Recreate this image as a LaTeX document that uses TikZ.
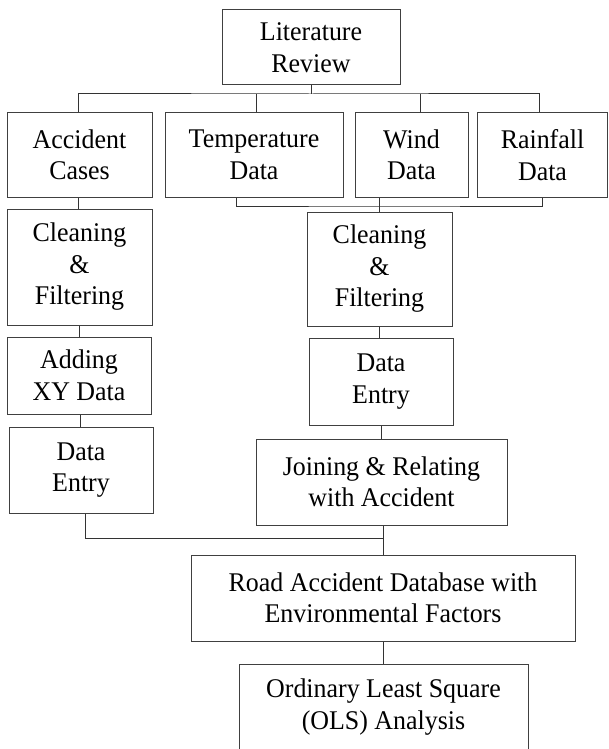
\documentclass[tikz,border=0pt]{standalone}
\usepackage{fontspec}
\setmainfont{Liberation Serif}[FakeStretch=0.96]
\begin{document}
\begin{tikzpicture}[x=1pt, y=-1pt,
        box/.style={draw=black!75, line width=1pt, inner sep=0pt, align=center, font=\fontsize{27}{31.5}\selectfont},
        link/.style={draw=black!80, line width=1pt}]
    \useasboundingbox (0,0) rectangle (608,749);
    \clip (0,0) rectangle (608,749);

    % top row
    \node[box, minimum width=178pt, minimum height=75pt] (lit) at (311,47.5) {Literature\\Review};
    \node[box, minimum width=145pt, minimum height=84pt] (acc) at (79.5,155) {Accident\\Cases};
    \node[box, minimum width=178pt, minimum height=84pt] (temp) at (254,155) {Temperature\\Data};
    \node[box, minimum width=113pt, minimum height=84pt] (wind) at (411.5,155) {Wind\\Data};
    \node[box, minimum width=130pt, minimum height=84pt] (rain) at (542.5,155) {Rainfall\\Data};

    % accident branch
    \node[box, minimum width=145pt, minimum height=116pt] (cleanacc) at (79.5,267) {Cleaning\\\&\\Filtering};
    \node[box, minimum width=144pt, minimum height=77pt] (addxy) at (79,375.5) {Adding\\XY Data};
    \node[box, minimum width=144pt, minimum height=86pt] (entryacc) at (81,470) {Data\\Entry};

    % weather branch
    \node[box, minimum width=145pt, minimum height=114pt] (cleanenv) at (379.5,269) {Cleaning\\\&\\Filtering};
    \node[box, minimum width=144pt, minimum height=87pt] (entryenv) at (381,381.5) {Data\\Entry};
    \node[box, minimum width=251pt, minimum height=86pt] (join) at (381.5,482) {Joining \& Relating\\with Accident};

    % result
    \node[box, minimum width=384pt, minimum height=86pt] (road) at (383,598) {Road Accident Database with\\Environmental Factors};
    \node[box, minimum width=289pt, minimum height=86pt] (ols) at (383.5,707) {Ordinary Least Square\\(OLS) Analysis};

    \coordinate (topbus) at (311,94);
    \coordinate (midbus) at (379.5,206);
    \coordinate (lowbus) at (383,538);

    \draw[link] (lit.south) -- (topbus);
    \draw[link] ([xshift=-1.5pt]acc.north) |- (topbus) -| ([xshift=-3.5pt]rain.north);
    \draw[link] ([xshift=2pt]temp.north) -- ([xshift=2pt]temp.north |- topbus);
    \draw[link] ([xshift=8.5pt]wind.north) -- ([xshift=8.5pt]wind.north |- topbus);

    \draw[link] ([xshift=-18pt]temp.south) |- (midbus) -| (rain.south);
    \draw[link] (wind.south -| cleanenv.north) -- (cleanenv.north);

    \draw[link] ([xshift=-1.5pt]acc.south) -- ([xshift=-1.5pt]acc.south |- cleanacc.north);
    \draw[link] (cleanacc.south) -- (cleanacc.south |- addxy.north);
    \draw[link] ([xshift=1pt]addxy.south) -- ([xshift=1pt]addxy.south |- entryacc.north);
    \draw[link] ([xshift=4pt]entryacc.south) |- (lowbus);

    \draw[link] (cleanenv.south) -- (cleanenv.south |- entryenv.north);
    \draw[link] (entryenv.south) -- (entryenv.south |- join.north);
    \draw[link] ([xshift=1.5pt]join.south) -- (road.north);
    \draw[link] (road.south) -- (road.south |- ols.north);
\end{tikzpicture}
\end{document}
